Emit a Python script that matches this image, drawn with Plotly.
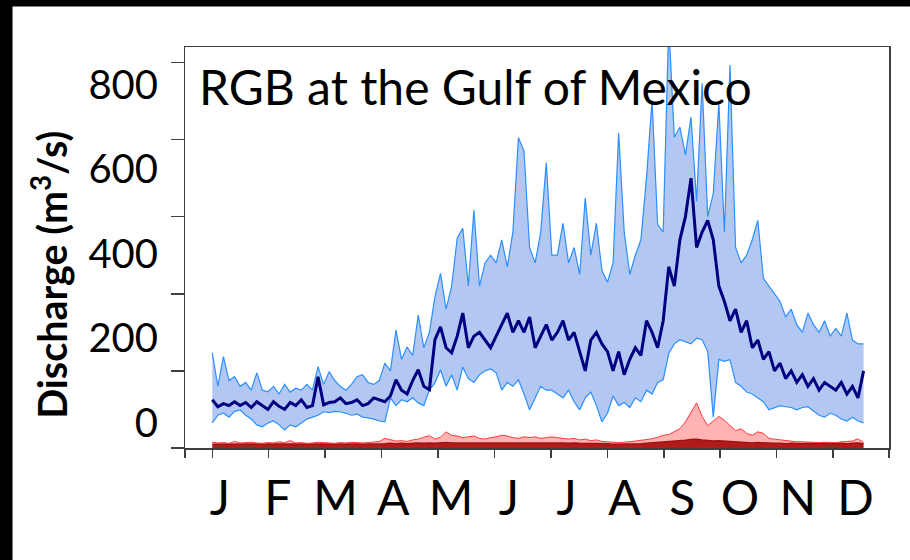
import plotly.graph_objects as go

# ---- data ----
days = list(range(0, 352, 3))  # sampling grid, day of year

upper = [247, 160, 237, 175, 185, 160, 170, 150, 195, 150, 146,
         160, 140, 165, 145, 155, 150, 165, 150, 211, 165,
         198, 175, 160, 150, 165, 185, 190, 170, 165, 175,
         220, 200, 306, 230, 262, 240, 345, 260, 300, 392,
         453, 360, 420, 544, 570, 420, 617, 420, 480, 500,
         480, 540, 470, 560, 805, 770, 520, 480, 560, 740, 500,
         500, 583, 480, 520, 450, 648, 500, 583, 460, 430,
         480, 817, 560, 450, 500, 540, 700, 902, 580, 560,
         1100, 806, 832, 760, 858, 640, 946, 600, 660, 895,
         560, 993, 520, 480, 500, 540, 590, 440, 420, 400,
         380, 340, 360, 320, 300, 350, 320, 300, 330, 290,
         310, 290, 350, 280, 270, 270]

mean = [125, 107, 115, 110, 120, 110, 118, 105, 120, 110, 100,
        120, 108, 100, 118, 110, 125, 105, 110, 185, 112,
        118, 120, 130, 115, 118, 125, 110, 115, 130, 125,
        120, 135, 177, 150, 140, 175, 203, 160, 151, 281,
        314, 260, 247, 290, 350, 260, 290, 300, 280, 260,
        290, 320, 350, 300, 330, 300, 340, 260, 290, 320, 280,
        300, 330, 280, 300, 250, 200, 280, 300, 270, 250,
        200, 250, 190, 230, 260, 240, 330, 300, 260, 330,
        470, 420, 540, 600, 700, 520, 560, 590, 540, 420,
        380, 330, 360, 300, 330, 260, 280, 230, 250, 200,
        220, 180, 200, 170, 190, 160, 180, 150, 170, 160,
        150, 170, 140, 160, 130, 200]

lower = [65, 85, 91, 80, 95, 99, 85, 75, 60, 55, 65,
         70, 60, 47, 60, 55, 65, 75, 80, 85, 94,
         92, 95, 94, 90, 85, 88, 80, 78, 75, 70,
         68, 130, 110, 125, 120, 130, 117, 110, 150, 169,
         203, 160, 190, 150, 210, 180, 170, 190, 200, 205,
         195, 150, 170, 160, 177, 140, 99, 130, 160, 150, 150,
         140, 130, 150, 120, 99, 130, 145, 110, 68, 90,
         135, 110, 118, 105, 130, 120, 150, 140, 170, 177,
         245, 270, 281, 275, 270, 285, 281, 250, 80, 230,
         225, 229, 170, 160, 145, 140, 130, 120, 99, 105,
         110, 107, 105, 99, 105, 107, 95, 85, 80, 90,
         85, 75, 70, 80, 70, 65]

red_upper = [15, 13, 14, 12, 17, 13, 14, 15, 13, 12, 14,
             13, 16, 14, 19, 13, 14, 12, 13, 15, 14,
             13, 12, 14, 13, 15, 14, 13, 14, 15, 17,
             25, 21, 18, 19, 17, 21, 23, 28, 32, 23,
             28, 42, 33, 31, 27, 29, 31, 25, 23, 27,
             29, 33, 31, 27, 25, 29, 27, 29, 25, 27, 29,
             27, 25, 23, 25, 21, 23, 19, 21, 17, 16,
             15, 14, 15, 16, 18, 20, 22, 24, 28, 33,
             35, 43, 50, 68, 92, 117, 82, 58, 70, 82,
             72, 58, 45, 50, 38, 33, 42, 38, 25, 23,
             21, 19, 17, 16, 16, 15, 14, 14, 15, 14,
             14, 16, 17, 18, 24, 14]

red_mean = [10, 10, 11, 10, 11, 10, 10, 11, 10, 10, 11,
            10, 11, 10, 10, 11, 10, 10, 11, 10, 10,
            11, 10, 10, 11, 10, 10, 11, 10, 10, 11,
            11, 12, 11, 12, 11, 12, 13, 12, 13, 12,
            13, 14, 13, 13, 14, 13, 13, 14, 13, 13,
            13, 14, 13, 13, 14, 13, 13, 14, 13, 13, 14,
            13, 13, 12, 13, 12, 12, 11, 12, 11, 11,
            10, 10, 11, 10, 11, 11, 12, 13, 14, 15,
            17, 18, 19, 20, 22, 23, 21, 19, 18, 19,
            18, 16, 15, 14, 14, 13, 14, 13, 12, 12,
            12, 11, 12, 11, 11, 12, 11, 11, 12, 11,
            11, 12, 11, 12, 13, 11]

months = ["J", "F", "M", "A", "M", "J", "J", "A", "S", "O", "N", "D"]
month_ticks = [k * 365 / 12 for k in range(12)]
y_label_vals = [0, 200, 400, 600, 800]
y_tick_vals = [0, 200, 400, 600, 800, 1000]

FONT = "Lato"
LIGHT_BLUE = "#2b8fff"
FILL_BLUE = "#b2c8f2"
NAVY = "#000080"
FRAME = "#404040"

fig = go.Figure()
fig.add_trace(go.Scatter(x=days, y=lower, mode="lines",
                         line=dict(color=LIGHT_BLUE, width=1.2),
                         hoverinfo="skip", showlegend=False))
fig.add_trace(go.Scatter(x=days, y=upper, mode="lines", fill="tonexty",
                         fillcolor=FILL_BLUE,
                         line=dict(color=LIGHT_BLUE, width=1.2),
                         hoverinfo="skip", showlegend=False))
fig.add_trace(go.Scatter(x=days, y=mean, mode="lines",
                         line=dict(color=NAVY, width=3),
                         hoverinfo="skip", showlegend=False))
fig.add_trace(go.Scatter(x=days, y=red_mean, mode="lines", fill="tozeroy",
                         fillcolor="#b01c1c",
                         line=dict(color="#a01010", width=1.5),
                         hoverinfo="skip", showlegend=False))
fig.add_trace(go.Scatter(x=days, y=red_upper, mode="lines", fill="tonexty",
                         fillcolor="#ffb3b3",
                         line=dict(color="#ff3a3a", width=1),
                         hoverinfo="skip", showlegend=False))
# carriers for the label axes
fig.add_trace(go.Scatter(x=[None], y=[None], xaxis="x2", yaxis="y",
                         hoverinfo="skip", showlegend=False))
fig.add_trace(go.Scatter(x=[None], y=[None], xaxis="x", yaxis="y2",
                         hoverinfo="skip", showlegend=False))

x_range = [-14.7, 364.7]
fig.update_layout(
    width=910, height=560,
    margin=dict(l=185, r=21, t=47, b=112),
    paper_bgcolor="white", plot_bgcolor="white",
    font=dict(family=FONT, color="black"),
    showlegend=False,
    xaxis=dict(range=x_range, tickvals=[-14.6] + month_ticks + [364.6],
               showticklabels=False, ticks="outside", ticklen=8,
               tickwidth=1.5, tickcolor=FRAME,
               showline=True, linecolor=FRAME, linewidth=1.5, mirror=True,
               showgrid=False, zeroline=False, fixedrange=True),
    yaxis=dict(range=[0, 1040], tickvals=y_tick_vals,
               showticklabels=False, ticks="outside", ticklen=13,
               tickwidth=1.5, tickcolor=FRAME,
               showline=True, linecolor=FRAME, linewidth=1.5, mirror=True,
               showgrid=False, zeroline=False, fixedrange=True),
    xaxis2=dict(overlaying="x", side="bottom", anchor="y",
                range=[-0.6058, 11.580], tickvals=list(range(12)),
                ticktext=months, ticks="", showline=False, showgrid=False,
                zeroline=False, ticklabelstandoff=18, fixedrange=True,
                tickfont=dict(family=FONT, size=48, color="black")),
    yaxis2=dict(overlaying="y", side="left", anchor="x",
                range=[-59.9, 889.9], tickvals=y_label_vals,
                ticktext=[str(v) for v in y_label_vals], ticks="",
                showline=False, showgrid=False, zeroline=False,
                ticklabelstandoff=26, fixedrange=True,
                tickfont=dict(family=FONT, size=40, color="black")),
    annotations=[
        dict(text="RGB at the Gulf of Mexico", xref="paper", yref="paper",
             x=0.017, y=0.9016, xanchor="left", yanchor="middle",
             showarrow=False, font=dict(family=FONT, size=48, color="black")),
        dict(text="<b>Discharge (m<sup>3</sup>/s)</b>", xref="paper",
             yref="paper", x=-0.1927, y=0.4326, xanchor="center",
             yanchor="middle", textangle=-90, showarrow=False,
             font=dict(family=FONT, size=39.5, color="black")),
    ],
    shapes=[
        dict(type="rect", xref="paper", yref="paper",
             x0=-0.2628, x1=-0.245, y0=-0.2793, y1=1.1172,
             fillcolor="black", line=dict(width=0), layer="above"),
        dict(type="rect", xref="paper", yref="paper",
             x0=-0.2628, x1=1.0298, y0=1.1012, y1=1.1172,
             fillcolor="black", line=dict(width=0), layer="above"),
    ],
)

fig.write_html("out.html",
               config={"displayModeBar": False, "staticPlot": True},
               post_script="document.body.style.margin='0px';")
